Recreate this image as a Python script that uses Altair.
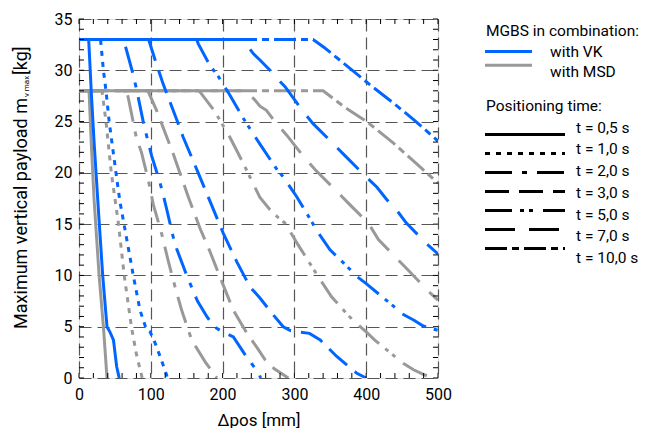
import altair as alt
import pandas as pd

# ---------------- data ----------------
SERIES = ["with MSD", "with VK"]
SERIES_COLORS = ["#999999", "#0066ff"]
TIMES = ["t = 0,5 s", "t = 1,0 s", "t = 2,0 s", "t = 3,0 s", "t = 5,0 s", "t = 7,0 s", "t = 10,0 s"]

# VK (blue), plateau 33 kg
VK_05_X = [0, 13.5, 17, 21, 27, 33, 39, 43, 48, 52.5, 56]
VK_05_Y = [33, 33, 28, 23, 16.4, 10, 5, 4.5, 3.7, 1.1, 0]
VK_10_X = [0, 30, 34, 37.6, 42, 51.5, 57, 62.7, 75.6, 85, 94, 99, 106, 113, 122, 123]
VK_10_Y = [33, 33, 30, 28, 25, 20, 17.2, 15, 10, 6.6, 4.7, 4.5, 3.4, 2.1, 0.3, 0]
VK_20_X = [0, 62, 66, 75, 80, 90, 101, 113, 117.5, 122, 131, 136, 150, 165, 178, 188, 200, 215, 232, 250, 253]
VK_20_Y = [33, 33, 32, 29.7, 28.2, 24.8, 21.7, 19, 17.8, 16.5, 13.8, 12.6, 10, 7.5, 6, 5, 4.5, 4, 2.2, 0.5, 0]
VK_30_X = [0, 97, 106, 117, 136, 145, 166, 185, 201, 220, 238, 252, 270, 284.5, 295, 305, 321, 336, 359, 387, 400]
VK_30_Y = [33, 33, 31, 28.7, 25.2, 23.5, 20, 16.8, 14.1, 11.3, 8.9, 7.8, 6.2, 5, 4.6, 4.5, 4.35, 3.7, 2.1, 0.46, 0]
VK_50_X = [0, 164, 166, 182, 194, 210, 229, 252, 275, 284.5, 303, 321, 331, 349.6, 373, 387, 400, 419, 438, 449, 466, 479.5, 500]
VK_50_Y = [33, 33, 32.6, 30.5, 29.4, 27.6, 25.3, 22.8, 20.4, 19.6, 17.7, 15.6, 14.4, 12.5, 10.9, 9.9, 9.2, 8.1, 7, 6.3, 5.65, 5.07, 4.65]
VK_70_X = [0, 228, 243, 252, 266, 273, 287, 312, 326, 356, 370, 400, 415, 428.5, 442, 456, 484, 500]
VK_70_Y = [33, 33, 31.6, 31, 30, 29.4, 28.4, 26, 24.8, 22.7, 21.7, 19.6, 18.6, 17.4, 16.4, 15.1, 13.1, 12.1]
VK_100_X = [0, 326, 342, 363, 391, 405, 438, 466, 500]
VK_100_Y = [33, 33, 32.2, 31, 29.4, 28.6, 26.8, 25.2, 23.1]

# MSD (grey), plateau 28 kg
MSD_05_X = [0, 14, 17, 21, 28, 34, 39]
MSD_05_Y = [28, 28, 23, 17.4, 10, 5, 0]
MSD_10_X = [0, 32, 37.6, 45, 55, 63, 73, 80, 88]
MSD_10_Y = [28, 28, 25, 20, 15, 10, 5, 2.3, 0]
MSD_20_X = [0, 66, 68.7, 80, 87, 96.5, 103.5, 115, 124, 133.7, 143, 157, 175.5, 192]
MSD_20_Y = [28, 28, 27.3, 23.4, 22, 19.3, 16.9, 14.1, 11.5, 8.9, 6.6, 3.7, 1.6, 0]
MSD_30_X = [0, 96, 108, 131, 152, 168.5, 182, 196, 215, 233.5, 247.5, 259, 272, 291.5]
MSD_30_Y = [28, 28, 26.1, 21.9, 17.7, 14.6, 12.4, 9.9, 6.6, 4.4, 3, 1.8, 0.9, 0]
MSD_50_X = [0, 166, 168.5, 189, 210, 229, 252, 266, 278, 287, 305, 324, 333, 352, 375, 387, 400, 412, 438, 452, 466, 479.5, 493]
MSD_50_Y = [28, 28, 27.9, 26, 23.5, 20.9, 17.6, 16.4, 15.6, 15.1, 13, 10.9, 9.9, 7.9, 6.1, 5.3, 4.5, 3.7, 2.2, 1.4, 0.8, 0.35, 0]
MSD_70_X = [0, 232, 245, 252, 261, 275, 289, 315, 329, 359, 373, 403, 417, 442, 458.6, 489, 500]
MSD_70_Y = [28, 28, 27.1, 26.5, 26.1, 24.8, 23.7, 21.4, 20.3, 18.2, 17.2, 15.1, 13.5, 11.7, 10.5, 8.3, 7.6]
MSD_100_X = [0, 340, 368, 400.7, 438, 470, 500]
MSD_100_Y = [28, 28, 26.5, 25, 22.9, 20.9, 19]

X_LABELS = [0, 100, 200, 300, 400, 500]
Y_LABELS = [0, 5, 10, 15, 20, 25, 30, 35]

# ---------------- build tables ----------------
curves = [
    ("with MSD", TIMES[0], MSD_05_X, MSD_05_Y), ("with MSD", TIMES[1], MSD_10_X, MSD_10_Y),
    ("with MSD", TIMES[2], MSD_20_X, MSD_20_Y), ("with MSD", TIMES[3], MSD_30_X, MSD_30_Y),
    ("with MSD", TIMES[4], MSD_50_X, MSD_50_Y), ("with MSD", TIMES[5], MSD_70_X, MSD_70_Y),
    ("with MSD", TIMES[6], MSD_100_X, MSD_100_Y),
    ("with VK", TIMES[0], VK_05_X, VK_05_Y), ("with VK", TIMES[1], VK_10_X, VK_10_Y),
    ("with VK", TIMES[2], VK_20_X, VK_20_Y), ("with VK", TIMES[3], VK_30_X, VK_30_Y),
    ("with VK", TIMES[4], VK_50_X, VK_50_Y), ("with VK", TIMES[5], VK_70_X, VK_70_Y),
    ("with VK", TIMES[6], VK_100_X, VK_100_Y),
]
rows = []
for s, t, xs, ys in curves:
    for i, (xv, yv) in enumerate(zip(xs, ys)):
        rows.append({"series": s, "time": t, "x": xv, "y": yv, "i": i})
df = pd.DataFrame(rows)

W, H = 359, 359
FONT = "Roboto"
DASHES = [[1, 0], [5, 6], [27, 10, 5, 10], [24, 10], [27, 8, 4, 5, 4, 10], [30, 14], [22, 5, 7, 5]]

xscale = alt.Scale(domain=[0, 500], nice=False, zero=False)
yscale = alt.Scale(domain=[0, 35], nice=False, zero=False)
cscale = alt.Scale(domain=SERIES, range=SERIES_COLORS)
dscale = alt.Scale(domain=TIMES, range=DASHES)

xaxis = alt.Axis(values=X_LABELS, grid=True, gridDash=[12, 6], gridColor="#555555", gridWidth=1.2,
                 ticks=False, domain=False, labelFontSize=16, labelFont=FONT, labelColor="black",
                 labelPadding=8, title="Δpos [mm]", titleFont=FONT, titleFontSize=17,
                 titleFontWeight="normal", titleColor="black", titlePadding=10, labelFlush=False)
yaxis = alt.Axis(values=Y_LABELS, grid=True, gridDash=[12, 6], gridColor="#555555", gridWidth=1.2,
                 ticks=False, domain=False, labelFontSize=16, labelFont=FONT, labelColor="black",
                 labelPadding=7, title=None, labelFlush=False)

base = alt.Chart(df)
gray_lines = base.transform_filter(alt.datum.series == "with MSD").mark_line(
    strokeWidth=3, strokeCap="butt", clip=True).encode(
    x=alt.X("x:Q", scale=xscale, axis=xaxis),
    y=alt.Y("y:Q", scale=yscale, axis=yaxis),
    color=alt.Color("series:N", scale=cscale, legend=None),
    strokeDash=alt.StrokeDash("time:N", scale=dscale, legend=None),
    order=alt.Order("i:Q"),
)
blue_lines = base.transform_filter(alt.datum.series == "with VK").mark_line(
    strokeWidth=3, strokeCap="butt", clip=True).encode(
    x=alt.X("x:Q", scale=xscale, axis=None),
    y=alt.Y("y:Q", scale=yscale, axis=None),
    color=alt.Color("series:N", scale=cscale, legend=None),
    strokeDash=alt.StrokeDash("time:N", scale=dscale, legend=None),
    order=alt.Order("i:Q"),
)

# inward ticks on all four sides
xt = pd.DataFrame({"v": list(range(0, 501, 20))})
yt = pd.DataFrame({"v": list(range(0, 36, 1))})
TL = 5
tick_b = alt.Chart(xt).mark_rule(color="black", strokeWidth=1).encode(
    x=alt.X("v:Q", scale=xscale, axis=None), y=alt.value(H), y2=alt.value(H - TL))
tick_t = alt.Chart(xt).mark_rule(color="black", strokeWidth=1).encode(
    x=alt.X("v:Q", scale=xscale, axis=None), y=alt.value(0), y2=alt.value(TL))
tick_l = alt.Chart(yt).mark_rule(color="black", strokeWidth=1).encode(
    y=alt.Y("v:Q", scale=yscale, axis=None), x=alt.value(0), x2=alt.value(TL))
tick_r = alt.Chart(yt).mark_rule(color="black", strokeWidth=1).encode(
    y=alt.Y("v:Q", scale=yscale, axis=None), x=alt.value(W), x2=alt.value(W - TL))

# y-axis title with subscript
t1 = alt.Chart(pd.DataFrame({"t": ["Maximum vertical payload m"]})).mark_text(
    angle=270, align="right", baseline="middle", font=FONT, fontSize=18, color="black").encode(
    x=alt.value(-57), y=alt.value(79), text="t:N")
t2 = alt.Chart(pd.DataFrame({"t": ["v max"]})).mark_text(
    angle=270, align="left", baseline="middle", font=FONT, fontSize=8, color="black").encode(
    x=alt.value(-52), y=alt.value(78), text="t:N")
t3 = alt.Chart(pd.DataFrame({"t": ["[kg]"]})).mark_text(
    angle=270, align="left", baseline="middle", font=FONT, fontSize=18, color="black").encode(
    x=alt.value(-57), y=alt.value(56), text="t:N")

# legend (drawn as marks)
LEG1_TITLE = "MGBS in combination:"
LEG2_TITLE = "Positioning time:"
LEG1_ORDER = [LEG1_TITLE, "with VK", "with MSD"]
LEG2_ORDER = [LEG2_TITLE] + TIMES
leg1_scale = alt.Scale(domain=LEG1_ORDER, range=[12, 53], padding=0)
leg2_scale = alt.Scale(domain=LEG2_ORDER, range=[87, 239], padding=0)
LFS = 15.5

l1 = pd.DataFrame({"label": ["with VK", "with MSD"], "series": ["with VK", "with MSD"]})
l2 = pd.DataFrame({"label": TIMES, "time": TIMES})
leg1_lines = alt.Chart(l1).mark_rule(strokeWidth=3).encode(
    y=alt.Y("label:N", scale=leg1_scale, axis=None), x=alt.value(406), x2=alt.value(453),
    color=alt.Color("series:N", scale=cscale, legend=None))
leg1_text = alt.Chart(pd.DataFrame({"label": LEG1_ORDER[1:]})).mark_text(
    align="left", baseline="middle", font=FONT, fontSize=LFS, color="black").encode(
    y=alt.Y("label:N", scale=leg1_scale, axis=None), x=alt.value(471), text="label:N")
leg1_title = alt.Chart(pd.DataFrame({"label": [LEG1_TITLE]})).mark_text(
    align="left", baseline="middle", font=FONT, fontSize=LFS, color="black").encode(
    y=alt.Y("label:N", scale=leg1_scale, axis=None), x=alt.value(407), text="label:N")
leg2_lines = alt.Chart(l2).mark_rule(strokeWidth=3, strokeCap="butt", color="black").encode(
    y=alt.Y("label:N", scale=leg2_scale, axis=None), x=alt.value(406), x2=alt.value(486),
    strokeDash=alt.StrokeDash("time:N", scale=dscale, legend=None))
leg2_text = alt.Chart(pd.DataFrame({"label": TIMES})).mark_text(
    align="left", baseline="middle", font=FONT, fontSize=LFS, color="black").encode(
    y=alt.Y("label:N", scale=leg2_scale, axis=None), x=alt.value(497), text="label:N")
leg2_title = alt.Chart(pd.DataFrame({"label": [LEG2_TITLE]})).mark_text(
    align="left", baseline="middle", font=FONT, fontSize=LFS, color="black").encode(
    y=alt.Y("label:N", scale=leg2_scale, axis=None), x=alt.value(407), text="label:N")

chart = alt.layer(
    gray_lines, blue_lines, tick_b, tick_t, tick_l, tick_r, t1, t2, t3,
    leg1_lines, leg1_text, leg1_title, leg2_lines, leg2_text, leg2_title,
).resolve_scale(y="independent").resolve_axis(x="independent").properties(
    width=W, height=H,
    autosize=alt.AutoSizeParams(type="none"),
    padding={"left": 71, "top": 11, "right": 202, "bottom": 50},
).configure_view(stroke="black", strokeWidth=1.6).configure(background="white")

chart.save("out.html", embed_options={"renderer": "svg", "actions": False})
